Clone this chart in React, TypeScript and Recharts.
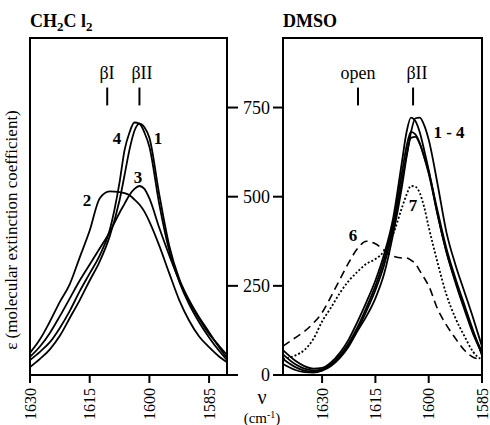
import React from "react";
import { LineChart, Line, XAxis, YAxis, ReferenceLine, ReferenceArea } from "recharts";

// CH2Cl2 panel
const wnCH2Cl2 = [1630, 1627.5, 1625, 1622.5, 1620, 1617.5, 1615, 1612.5, 1610, 1607.5, 1606.25, 1605, 1603.75, 1602.5, 1601.25, 1600, 1597.5, 1595, 1592.5, 1590, 1587.5, 1585, 1582.5, 1580.5];
const ch1 = [22, 45, 72, 110, 160, 210, 265, 318, 388, 490, 560, 632, 685, 705, 695, 665, 505, 362, 270, 210, 162, 120, 78, 48];
const ch2 = [62, 100, 150, 205, 255, 330, 405, 495, 515, 513, 510, 504, 492, 478, 458, 430, 362, 285, 210, 152, 108, 78, 52, 36];
const ch3 = [51, 80, 118, 165, 215, 265, 310, 355, 400, 455, 480, 505, 522, 530, 522, 495, 412, 335, 265, 205, 158, 115, 82, 56];
const ch4 = [42, 65, 92, 132, 180, 235, 285, 335, 405, 540, 630, 680, 708, 705, 680, 640, 478, 348, 262, 198, 148, 105, 68, 42];

// DMSO panel
const wnDMSO = [1641, 1637.5, 1635, 1632.5, 1630, 1627.5, 1625, 1622.5, 1620, 1617.5, 1615, 1612.5, 1610, 1607.5, 1606.25, 1605, 1603.75, 1602.5, 1601.25, 1600, 1597.5, 1595, 1592.5, 1590, 1587.5, 1585];
const dmA = [31, 14, 8, 7, 12, 25, 48, 80, 124, 165, 215, 285, 395, 530, 610, 680, 720, 722, 700, 660, 535, 400, 310, 235, 160, 80];
const dmB = [70, 40, 25, 18, 20, 35, 62, 100, 150, 205, 265, 340, 440, 600, 680, 722, 712, 680, 630, 575, 450, 345, 260, 185, 115, 60];
const dmC = [58, 30, 18, 13, 16, 30, 55, 90, 135, 190, 250, 325, 425, 570, 640, 682, 675, 650, 610, 565, 450, 345, 265, 190, 120, 65];
const dmD = [45, 22, 12, 9, 13, 27, 50, 85, 128, 180, 238, 310, 410, 545, 615, 665, 668, 648, 612, 570, 460, 355, 272, 198, 125, 55];
const dm6 = [81, 105, 122, 145, 175, 220, 268, 315, 355, 375, 368, 350, 333, 328, 328, 322, 312, 292, 272, 250, 185, 140, 103, 70, 50, 44];
const dm7 = [45, 55, 70, 100, 150, 189, 230, 264, 290, 312, 325, 348, 395, 470, 505, 530, 528, 510, 470, 415, 315, 225, 160, 110, 65, 42];

const xTicks = [1630, 1615, 1600, 1585];
const yTicks = [0, 250, 500, 750];
const Y_MAX = 945;

const ch2cl2Data = wnCH2Cl2.map((wn, i) => ({ wn, c1: ch1[i], c2: ch2[i], c3: ch3[i], c4: ch4[i] }));
const dmsoData = wnDMSO.map((wn, i) => ({ wn, a: dmA[i], b: dmB[i], c: dmC[i], d: dmD[i], s6: dm6[i], s7: dm7[i] }));

const SERIF = "'Liberation Serif', 'Times New Roman', serif";
const axisStyle = { stroke: "#000", strokeWidth: 2 };

const RotTick = (props: any) => {
  const { x, y, payload } = props;
  return (
    <text x={x} y={y} transform={`rotate(-90 ${x} ${y})`} textAnchor="end" dominantBaseline="central"
      fontSize={16} fontFamily={SERIF} fill="#000">
      {payload.value}
    </text>
  );
};

const curve = { stroke: "#000", strokeWidth: 1.8, dot: false, isAnimationActive: false, type: "monotone" as const };

function CH2Cl2Panel() {
  return (
    <LineChart width={245} height={425} data={ch2cl2Data} margin={{ top: 38, left: 30, right: 0, bottom: 0 }}>
      <XAxis dataKey="wn" type="number" domain={[1580.5, 1630]} reversed ticks={xTicks} interval={0}
        axisLine={axisStyle} tickLine={axisStyle} tickSize={8} tickMargin={5} tick={<RotTick />} height={50} />
      <YAxis orientation="right" type="number" domain={[0, Y_MAX]} ticks={yTicks} width={18}
        axisLine={axisStyle} tickLine={axisStyle} tickSize={11} tick={() => <g />} />
      <ReferenceArea x1={1630} x2={1580.5} y1={0} y2={Y_MAX} fill="none" stroke="#000" strokeWidth={2} ifOverflow="visible" />
      <ReferenceLine segment={[{ x: 1610.6, y: 756 }, { x: 1610.6, y: 806 }]} stroke="#000" strokeWidth={2} />
      <ReferenceLine segment={[{ x: 1602.5, y: 756 }, { x: 1602.5, y: 806 }]} stroke="#000" strokeWidth={2} />
      <Line dataKey="c1" {...curve} />
      <Line dataKey="c2" {...curve} />
      <Line dataKey="c3" {...curve} />
      <Line dataKey="c4" {...curve} />
    </LineChart>
  );
}

function DMSOPanel() {
  return (
    <LineChart width={255} height={425} data={dmsoData} margin={{ top: 38, left: 0, right: 8, bottom: 0 }}>
      <XAxis dataKey="wn" type="number" domain={[1585, 1641]} reversed ticks={xTicks} interval={0}
        axisLine={axisStyle} tickLine={axisStyle} tickSize={8} tickMargin={5} tick={<RotTick />} height={50} />
      <YAxis type="number" domain={[0, Y_MAX]} ticks={yTicks} width={48}
        axisLine={axisStyle} tickLine={axisStyle} tickSize={10} tickMargin={3}
        tick={{ fontSize: 18, fill: "#000", fontFamily: SERIF }} />
      <ReferenceArea x1={1641} x2={1585} y1={0} y2={Y_MAX} fill="none" stroke="#000" strokeWidth={2} ifOverflow="visible" />
      <ReferenceLine segment={[{ x: 1619.9, y: 756 }, { x: 1619.9, y: 806 }]} stroke="#000" strokeWidth={2} />
      <ReferenceLine segment={[{ x: 1604.4, y: 756 }, { x: 1604.4, y: 806 }]} stroke="#000" strokeWidth={2} />
      <Line dataKey="a" {...curve} />
      <Line dataKey="b" {...curve} />
      <Line dataKey="c" {...curve} />
      <Line dataKey="d" {...curve} />
      <Line dataKey="s6" {...curve} strokeWidth={1.6} strokeDasharray="8 5" />
      <Line dataKey="s7" {...curve} strokeWidth={1.8} strokeDasharray="2 2" />
    </LineChart>
  );
}

export default function App() {
  return (
    <div style={{ position: "absolute", left: 0, top: 0, width: 490, height: 425, background: "#fff", fontFamily: SERIF }}>
      <div style={{ position: "absolute", left: 0, top: 0 }}><CH2Cl2Panel /></div>
      <div style={{ position: "absolute", left: 235, top: 0 }}><DMSOPanel /></div>
      <svg width={490} height={425} style={{ position: "absolute", left: 0, top: 0, pointerEvents: "none" }}
        fontFamily={SERIF} fill="#000">
        <text x={30} y={27} fontSize={18} fontWeight="bold">CH<tspan dy={4} fontSize={13}>2</tspan><tspan dy={-4}>C l</tspan><tspan dy={4} fontSize={13}>2</tspan></text>
        <text x={283} y={27} fontSize={18} fontWeight="bold">DMSO</text>
        <text x={107} y={79} fontSize={18} textAnchor="middle">βI</text>
        <text x={142} y={79} fontSize={18} textAnchor="middle">βII</text>
        <text x={358} y={79} fontSize={18} textAnchor="middle">open</text>
        <text x={417} y={79} fontSize={18} textAnchor="middle">βII</text>
        <text x={117} y={144} fontSize={17} fontWeight="bold" textAnchor="middle">4</text>
        <text x={158} y={144} fontSize={17} fontWeight="bold" textAnchor="middle">1</text>
        <text x={138} y={183} fontSize={17} fontWeight="bold" textAnchor="middle">3</text>
        <text x={87} y={206} fontSize={17} fontWeight="bold" textAnchor="middle">2</text>
        <text x={449} y={138} fontSize={17} fontWeight="bold" textAnchor="middle">1 - 4</text>
        <text x={413} y={211} fontSize={17} fontWeight="bold" textAnchor="middle">7</text>
        <text x={353} y={241} fontSize={17} fontWeight="bold" textAnchor="middle">6</text>
        <text x={17} y={230} fontSize={17} textAnchor="middle" transform="rotate(-90 17 230)">ε (molecular extinction coefficient)</text>
        <text x={262} y={404} fontSize={20} textAnchor="middle">ν</text>
        <text x={262} y={423} fontSize={15} textAnchor="middle">(cm<tspan dy={-5} fontSize={10}>-1</tspan><tspan dy={5}>)</tspan></text>
      </svg>
    </div>
  );
}
